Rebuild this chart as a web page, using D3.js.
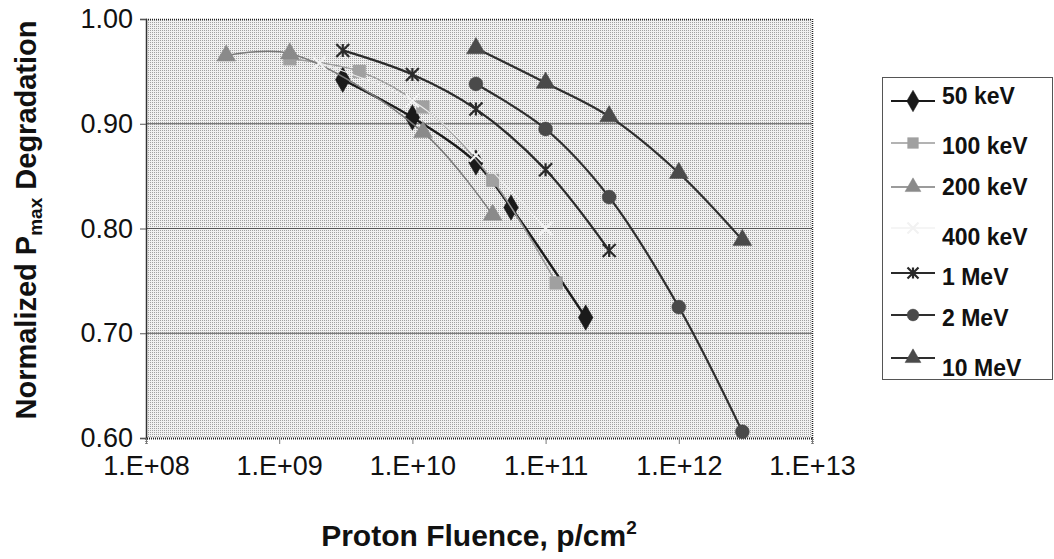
<!DOCTYPE html>
<html><head><meta charset="utf-8">
<script src="https://cdn.jsdelivr.net/npm/d3@7/dist/d3.min.js"></script>
<style>body{margin:0;background:#fff}svg{display:block;font-family:"Liberation Sans",Arial,sans-serif}</style>
</head><body><svg id="c" width="1054" height="559"></svg>
<script>
// ---- data ----
const seriesNames = ["50 keV","100 keV","200 keV","400 keV","1 MeV","2 MeV","10 MeV"];
const fluence50 = [3e9, 1e10, 3e10, 5.5e10, 2e11];
const pmax50    = [0.942, 0.906, 0.863, 0.820, 0.715];
const fluence100 = [1.2e9, 4e9, 1.2e10, 4e10, 1.2e11];
const pmax100    = [0.962, 0.950, 0.916, 0.846, 0.748];
const fluence200 = [4e8, 1.2e9, 1.2e10, 4e10];
const pmax200    = [0.965, 0.967, 0.892, 0.813];
const fluence400 = [2e9, 1e10, 3e10, 1e11];
const pmax400    = [0.958, 0.922, 0.870, 0.800];
const fluence1M = [3e9, 1e10, 3e10, 1e11, 3e11];
const pmax1M    = [0.970, 0.947, 0.914, 0.856, 0.779];
const fluence2M = [3e10, 1e11, 3e11, 1e12, 3e12];
const pmax2M    = [0.938, 0.895, 0.830, 0.725, 0.606];
const fluence10M = [3e10, 1e11, 3e11, 1e12, 3e12];
const pmax10M    = [0.972, 0.939, 0.907, 0.853, 0.789];
const xTickValues = [1e8, 1e9, 1e10, 1e11, 1e12, 1e13];
const xTickLabels = ["1.E+08","1.E+09","1.E+10","1.E+11","1.E+12","1.E+13"];
const yTickValues = [0.60, 0.70, 0.80, 0.90, 1.00];
const yTickLabels = ["0.60","0.70","0.80","0.90","1.00"];

const allX = [fluence50,fluence100,fluence200,fluence400,fluence1M,fluence2M,fluence10M];
const allY = [pmax50,pmax100,pmax200,pmax400,pmax1M,pmax2M,pmax10M];

// ---- styles ----
const styles = [
  {stroke:"#1a1a1a", w:2.4, fill:"#1a1a1a", sym:"diamond"},
  {stroke:"#9a9a9a", w:1.5, fill:"#a0a0a0", sym:"square"},
  {stroke:"#7a7a7a", w:1.5, fill:"#8a8a8a", sym:"triangle"},
  {stroke:"#ececec", w:1.2, fill:"#f2f2f2", sym:"x"},
  {stroke:"#2a2a2a", w:2.2, fill:"#2a2a2a", sym:"star"},
  {stroke:"#2e2e2e", w:2.2, fill:"#4a4a4a", sym:"circle"},
  {stroke:"#2e2e2e", w:2.2, fill:"#4a4a4a", sym:"triangle"}
];

const svg = d3.select("#c");
const L=146, R=812, T=19, B=438;
const x = d3.scaleLog().domain([1e8,1e13]).range([L,R]);
const y = d3.scaleLinear().domain([0.6,1.0]).range([B,T]);

const defs = svg.append("defs");
const pat = defs.append("pattern").attr("id","bg").attr("width",2).attr("height",2).attr("patternUnits","userSpaceOnUse");
pat.append("rect").attr("width",2).attr("height",2).attr("fill","#f0f0f0");
pat.append("rect").attr("width",1).attr("height",1).attr("fill","#a0a0a0");

svg.append("rect").attr("x",L).attr("y",T).attr("width",R-L).attr("height",B-T).attr("fill","url(#bg)");

// gridlines
svg.append("g").selectAll("line").data([0.7,0.8,0.9]).join("line")
  .attr("x1",L).attr("x2",R).attr("y1",d=>y(d)).attr("y2",d=>y(d))
  .attr("stroke","#555").attr("stroke-width",1);

// borders: top/right dotted
svg.append("line").attr("x1",L).attr("x2",R).attr("y1",T+0.5).attr("y2",T+0.5).attr("stroke","#222").attr("stroke-dasharray","1,1").attr("stroke-width",1.5);
svg.append("line").attr("x1",R+0.5).attr("x2",R+0.5).attr("y1",T).attr("y2",B).attr("stroke","#222").attr("stroke-dasharray","1,1").attr("stroke-width",1.5);

// axes
const yAxis = d3.axisLeft(y).tickValues(yTickValues).tickFormat((d,i)=>yTickLabels[i]).tickSize(6).tickPadding(7);
const gy = svg.append("g").attr("transform",`translate(${L},0)`).call(yAxis);
gy.select(".domain").attr("stroke","#333").attr("stroke-width",1.5);
gy.selectAll(".tick line").attr("stroke","#555");
gy.selectAll("text").attr("font-size",27).attr("fill","#111");

const xAxis = d3.axisBottom(x).tickValues(xTickValues).tickFormat((d,i)=>xTickLabels[i]).tickSize(6).tickPadding(12);
const gx = svg.append("g").attr("transform",`translate(0,${B})`).call(xAxis);
gx.select(".domain").attr("stroke","#222").attr("stroke-width",2).attr("stroke-dasharray","1,1");
gx.selectAll(".tick line").attr("stroke","#777");
gx.selectAll("text").attr("font-size",27).attr("fill","#111");

// symbols
function symPath(s, size){
  const r = size;
  if(s==="diamond") return d3.symbol(d3.symbolDiamond, r*r*1.1)();
  if(s==="square") return d3.symbol(d3.symbolSquare, r*r*0.95)();
  if(s==="triangle") return d3.symbol(d3.symbolTriangle, r*r*0.9)();
  if(s==="circle") return d3.symbol(d3.symbolCircle, r*r*0.9)();
  return null;
}
function drawMarker(g, st, cx, cy, size){
  if(st.sym==="star" || st.sym==="x"){
    const h=size/2;
    const p = d3.path();
    p.moveTo(cx-h,cy-h); p.lineTo(cx+h,cy+h);
    p.moveTo(cx-h,cy+h); p.lineTo(cx+h,cy-h);
    if(st.sym==="star"){ p.moveTo(cx,cy-h); p.lineTo(cx,cy+h); }
    g.append("path").attr("d",p.toString()).attr("stroke",st.fill).attr("stroke-width",2.2).attr("fill","none");
  } else {
    g.append("path").attr("d",symPath(st.sym,size)).attr("transform",`translate(${cx},${cy})`)
      .attr("fill",st.fill).attr("stroke",st.fill).attr("stroke-width",0.5);
  }
}

const line = d3.line().x(d=>x(d[0])).y(d=>y(d[1])).curve(d3.curveCatmullRom.alpha(0.5));
const gData = svg.append("g");
allX.forEach((xs,i)=>{
  const pts = xs.map((v,j)=>[v, allY[i][j]]);
  const st = styles[i];
  gData.append("path").attr("d",line(pts)).attr("fill","none").attr("stroke",st.stroke).attr("stroke-width",st.w);
  const gm = gData.append("g");
  pts.forEach(p=>drawMarker(gm, st, x(p[0]), y(p[1]), 13));
});

// axis titles
const yt = svg.append("text").attr("transform","translate(36,220) rotate(-90)").attr("text-anchor","middle")
  .attr("font-size",29).attr("font-weight","bold").attr("fill","#111");
yt.append("tspan").text("Normalized P");
yt.append("tspan").text("max").attr("font-size",19).attr("dy",6);
yt.append("tspan").text(" Degradation").attr("dy",-6);

const xt = svg.append("text").attr("x",479).attr("y",546).attr("text-anchor","middle")
  .attr("font-size",30).attr("font-weight","bold").attr("fill","#111");
xt.append("tspan").text("Proton Fluence, p/cm");
xt.append("tspan").text("2").attr("font-size",19).attr("dy",-12);

// legend
const lg = svg.append("g");
lg.append("rect").attr("x",882.5).attr("y",77.5).attr("width",170).attr("height",302).attr("fill","#fff").attr("stroke","#555");
const markerY = [101, 143, 187, 228, 273, 315, 358];
const textY   = [96, 146, 187, 237, 277, 318, 368];
seriesNames.forEach((n,i)=>{
  const st = styles[i];
  lg.append("line").attr("x1",891).attr("x2",935).attr("y1",markerY[i]).attr("y2",markerY[i]).attr("stroke",st.stroke).attr("stroke-width",Math.min(st.w,1.8));
  drawMarker(lg, st, 913, markerY[i], 11);
  lg.append("text").attr("x",942).attr("y",textY[i]).attr("dy","0.36em").attr("font-size",23).attr("font-weight","bold").attr("fill","#111").text(n);
});
</script></body></html>
